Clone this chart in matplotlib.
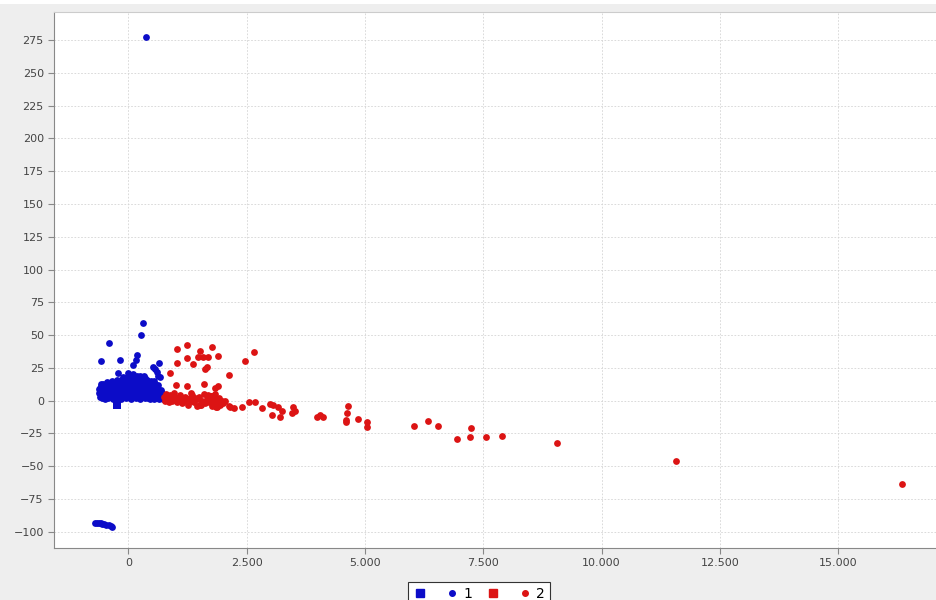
import matplotlib.pyplot as plt
from matplotlib.lines import Line2D
from matplotlib.patches import Rectangle
from matplotlib.ticker import FuncFormatter, MultipleLocator

# cluster 1 members (x, y)
c1_x = [360, 317, 262, -408, -583, -175, 190, 163, 106, 655, 528, -232, 600, 670, 560, 620,
        -620, -600, -590, -570, -560, -540, -520, -510, -500, -480, -470, -450, -440, -420,
        -400, -390, -370, -350, -340, -320, -300, -290, -270, -260, -240, -220, -200, -180,
        -170, -150, -140, -120, -100, -90, -70, -60, -40, -20, 0, 10, 30, 40, 60, 80, 90,
        110, 130, 140, 160, 180, 200, 210, 230, 250, 260, 280, 300, 320, 340, 350, 370, 390,
        410, 420, 440, 460, 480, 500, 520, 540, 560, 580, 600, 620, 640, 660, 690, 720,
        -560, -500, -430, -330, -250, -150, -50, 50, 150, 250, 350, 450, 550, -610, -450,
        -350, -250, -120, 20, 180, 320, 0, 100,
        -600, -580, -550, -530, -490, -460, -410, -380, -360, -310, -280, -230, -210, -190,
        -160, -130, -110, -80, -50, -30, -10, 20, 50, 70, 100, 120, 150, 170, 190, 220,
        240, 270, 290, 310, 330, 360, 380, 400, 430, 450, 470, 490, 510, 530, 550, 570,
        590, 610, 630, 650, 680, 700, 710, -620, -540, -400, -300,
        -700, -660, -620, -590, -560, -520, -470, -420, -380, -340]
c1_y = [277, 59, 50, 44, 30, 31, 35, 31, 27.5, 29, 26, 21, 22, 18, 24, 19,
        6, 10, 13, 4, 8, 11, 5, 7, 12, 9, 4, 6, 11, 8,
        13, 5, 10, 7, 3, 12, 9, 5, 14, 7, 11, 4, 9, 13,
        6, 16, 3, 10, 14, 7, 17, 4, 12, 9, 16, 5, 13, 18, 8, 3, 15,
        11, 18, 6, 14, 9, 17, 3, 12, 19, 7, 15, 4, 10, 17, 13, 6, 16,
        9, 2, 14, 5, 11, 3, 8, 15, 2, 6, 10, 3, 1, 5, 2, 1,
        2, 1, 2, 1, 2, 1, 2, 1, 2, 1, 2, 1, 1, 3, 14,
        15, 16, 18, 19, 19, 19, 21, 20,
        7, 11, 5, 9, 3, 10, 6, 12, 3, 8, 11, 6, 14, 3,
        8, 12, 5, 10, 15, 6, 11, 8, 14, 11, 6, 16, 10, 4, 13, 8,
        15, 10, 13, 7, 14, 9, 12, 5, 11, 8, 15, 6, 12, 4, 9, 13,
        4, 7, 12, 3, 8, 4, 6, 9, 13, 9, 13,
        -93, -93, -93.5, -93, -94, -94, -94.5, -95, -95.5, -96]

# cluster 2 members (x, y)
c2_x = [1036, 1240, 1515, 1775, 1902, 1479, 1585, 1690, 1247, 1361, 1029, 1657, 1621, 2466,
        2656, 881, 2134, 1008, 1247, 1600, 1902, 1832, 1325,
        750, 780, 800, 830, 860, 880, 900, 930, 960, 990, 1020, 1050, 1080, 1110, 1140,
        1170, 1200, 1230, 1260, 1290, 1320, 1350, 1380, 1410, 1440, 1470, 1500, 1530,
        1560, 1590, 1620, 1650, 1680, 1710, 1740, 1770, 1800, 1830, 1860, 1880, 1910,
        1940, 1970, 2000, 2043, 1515, 1868, 2134, 2150, 2233, 2396, 2557, 2677, 2825,
        3000, 3057, 3030, 3170, 3240, 3205, 3487, 3522, 3452, 3980, 4050, 4120, 4649,
        4614, 4593, 4593, 4860, 5037, 5037, 6037, 6339, 6550, 6952, 7235, 7220, 7552,
        7890, 9058, 11568, 16346]
c2_y = [39.6, 42.5, 38, 40.7, 34.3, 33.5, 33.5, 33.5, 32.3, 28, 28.5, 26, 24, 30.5,
        37, 21.3, 19.6, 12, 11.2, 12.7, 11.2, 9.5, 5.6,
        3, 0, 5, 1, -1, 4, 2, 0, 6, 3, -1, 1, 4, 2, -2,
        0, 3, 1, -3, 2, 0, 4, -1, 2, -4, 1, 3, -3,
        0, 5, -2, 1, 4, -1, 2, -4, 0, 5, -5, -2, 2,
        -3, 0, -2, 0, -3.3, -4.6, -4, -4.6, -5.8, -5, -0.7, -0.7, -5.5,
        -2.2, -3.5, -10.9, -4.6, -7.6, -12.7, -5, -7.6, -9.6, -12.7, -10.9, -12.7, -4,
        -9.1, -14.7, -16.5, -14, -16.5, -20.3, -19.3, -15.2, -19.3, -29.4, -21, -27.9, -27.9,
        -26.9, -32.3, -46, -63.5]

# cluster centres
centre_x = [-240, 1790]
centre_y = [-3.5, 3]

BLUE = "#0c0cc8"
RED = "#dc1414"

fig = plt.figure(figsize=(9.36, 6.0), dpi=100, facecolor="#eeeeee")
fig.patches.append(Rectangle((0, 1 - 4 / 600), 1, 4 / 600, transform=fig.transFigure,
                             facecolor="white", edgecolor="none", zorder=0))
ax = fig.add_axes([53.5 / 936, 52 / 600, 1 - 53.5 / 936, 536 / 600])
ax.set_facecolor("white")

ax.scatter(c1_x, c1_y, s=24, color=BLUE, linewidths=0, zorder=3)
ax.scatter(c2_x, c2_y, s=24, color=RED, linewidths=0, zorder=3)
ax.scatter(centre_x[:1], centre_y[:1], s=34, marker="s", color=BLUE, linewidths=0, zorder=4)
ax.scatter(centre_x[1:], centre_y[1:], s=34, marker="s", color=RED, linewidths=0, zorder=4)

ax.set_xlim(-1585, 17070)
ax.set_ylim(-112.3, 296.3)
ax.xaxis.set_major_locator(MultipleLocator(2500))
ax.yaxis.set_major_locator(MultipleLocator(25))
ax.xaxis.set_major_formatter(FuncFormatter(lambda v, p: f"{v:,.0f}".replace(",", ".")))

ax.grid(True, color="#d4d4d4", linestyle=(0, (2, 2)), linewidth=0.6, zorder=0)
ax.tick_params(direction="out", length=4, width=0.8, color="#888888",
               labelsize=8, labelcolor="#444444", pad=3)
ax.spines["left"].set_color("#888888")
ax.spines["bottom"].set_color("#888888")
ax.spines["top"].set_color("#cccccc")
ax.spines["right"].set_visible(False)

handles = [
    Line2D([], [], marker="s", linestyle="none", color=BLUE, markersize=6),
    Line2D([], [], marker="o", linestyle="none", color=BLUE, markersize=4),
    Line2D([], [], marker="s", linestyle="none", color=RED, markersize=6),
    Line2D([], [], marker="o", linestyle="none", color=RED, markersize=4),
]
leg = fig.legend(handles, ["", "1", "", "2"], ncol=4, loc="upper center",
                 bbox_to_anchor=(479 / 936, 25 / 600), fontsize=10, frameon=True,
                 fancybox=False, edgecolor="#333333", framealpha=1,
                 handlelength=1.0, handletextpad=0.3, columnspacing=1.0, borderpad=0.35)
leg.get_frame().set_linewidth(0.8)

fig.savefig("out.png", dpi=100, facecolor=fig.get_facecolor())
